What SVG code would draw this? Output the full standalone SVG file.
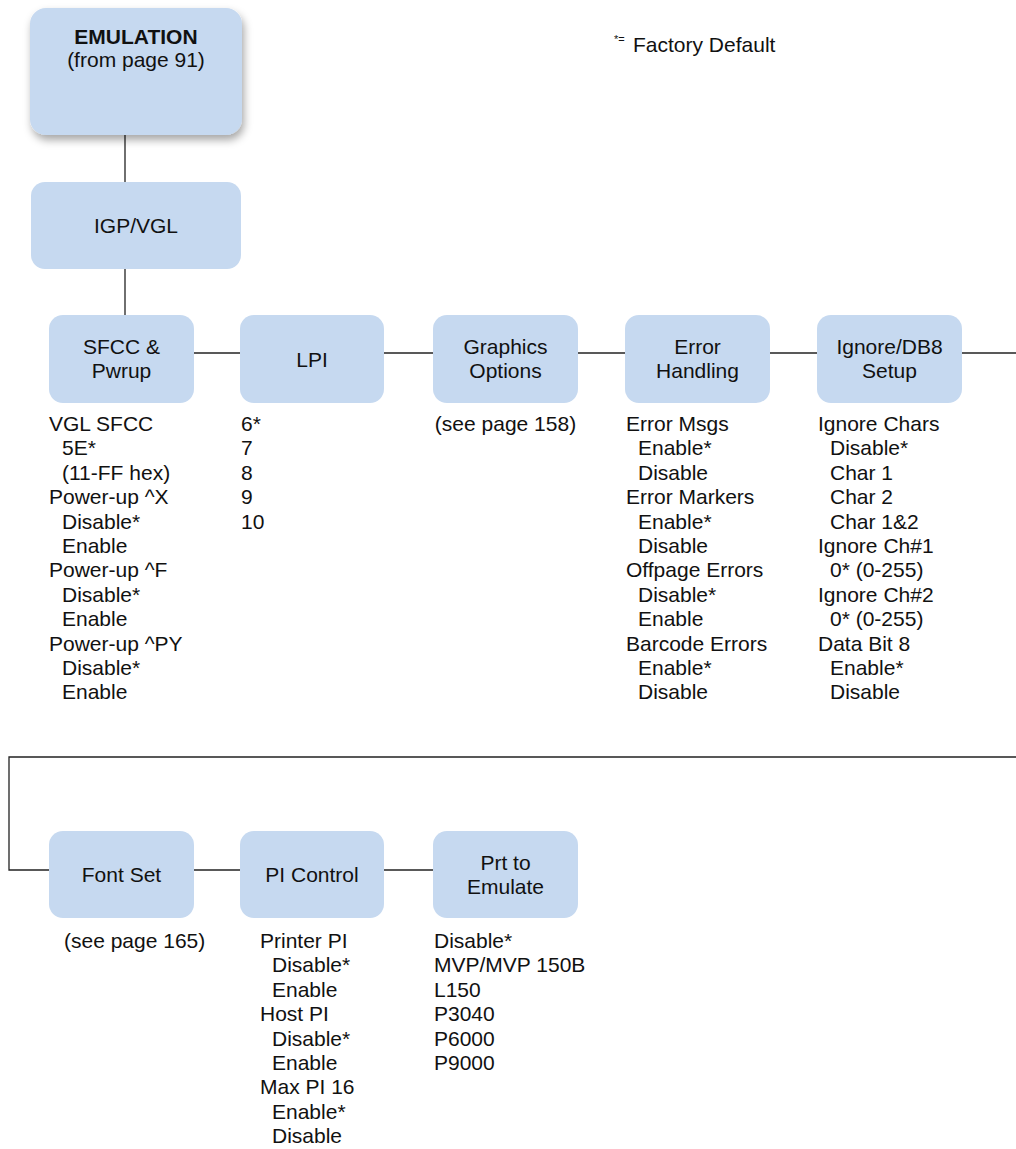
<svg xmlns="http://www.w3.org/2000/svg" width="1016" height="1149" viewBox="0 0 1016 1149">
<defs>
<style>
.box{fill:#c6d9f0;}
.t{font-family:"Liberation Sans",Arial,sans-serif;font-size:21px;fill:#111;}
.c{text-anchor:middle;}
.b{font-weight:bold;}
.ln{stroke:#222;stroke-width:1.3;fill:none;}
</style>
<filter id="sh" x="-20%" y="-20%" width="150%" height="150%">
<feDropShadow dx="2" dy="5" stdDeviation="4" flood-color="#000" flood-opacity="0.35"/>
</filter>
</defs>
<rect width="1016" height="1149" fill="#fff"/>
<g id="connectors">
<line class="ln" x1="125" y1="135" x2="125" y2="182"/>
<line class="ln" x1="125" y1="269" x2="125" y2="315"/>
<line class="ln" x1="194" y1="353" x2="240" y2="353"/>
<line class="ln" x1="384" y1="353" x2="433" y2="353"/>
<line class="ln" x1="578" y1="353" x2="625" y2="353"/>
<line class="ln" x1="770" y1="353" x2="817" y2="353"/>
<line class="ln" x1="962" y1="353" x2="1016" y2="353"/>
<polyline class="ln" points="1016,757 9,757 9,870 49,870"/>
<line class="ln" x1="194" y1="870" x2="240" y2="870"/>
<line class="ln" x1="384" y1="870" x2="433" y2="870"/>
</g>
<g id="legend">
<text class="t" x="614" y="43" style="font-size:11px">*=</text>
<text class="t" x="633" y="52">Factory Default</text>
</g>
<g id="emulation">
<rect class="box" x="30" y="8" width="212" height="127" rx="16" filter="url(#sh)"/>
<text class="t c b" x="136" y="44">EMULATION</text>
<text class="t c" x="136" y="67">(from page 91)</text>
</g>
<g id="igpvgl">
<rect class="box" x="31" y="182" width="210" height="87" rx="14"/>
<text class="t c" x="136" y="233">IGP/VGL</text>
</g>
<g id="sfcc">
<rect class="box" x="49" y="315" width="145" height="88" rx="14"/>
<text class="t c" x="121.5" y="354">SFCC &amp;</text>
<text class="t c" x="121.5" y="378">Pwrup</text>
<text class="t" x="49" y="431">VGL SFCC</text>
<text class="t" x="62" y="455.4">5E*</text>
<text class="t" x="62" y="479.8">(11-FF hex)</text>
<text class="t" x="49" y="504.2">Power-up ^X</text>
<text class="t" x="62" y="528.6">Disable*</text>
<text class="t" x="62" y="553">Enable</text>
<text class="t" x="49" y="577.4">Power-up ^F</text>
<text class="t" x="62" y="601.8">Disable*</text>
<text class="t" x="62" y="626.2">Enable</text>
<text class="t" x="49" y="650.6">Power-up ^PY</text>
<text class="t" x="62" y="675">Disable*</text>
<text class="t" x="62" y="699.4">Enable</text>
</g>
<g id="lpi">
<rect class="box" x="240" y="315" width="144" height="88" rx="14"/>
<text class="t c" x="312" y="367">LPI</text>
<text class="t" x="241" y="431">6*</text>
<text class="t" x="241" y="455.4">7</text>
<text class="t" x="241" y="479.8">8</text>
<text class="t" x="241" y="504.2">9</text>
<text class="t" x="241" y="528.6">10</text>
</g>
<g id="graphics">
<rect class="box" x="433" y="315" width="145" height="88" rx="14"/>
<text class="t c" x="505.5" y="354">Graphics</text>
<text class="t c" x="505.5" y="378">Options</text>
<text class="t c" x="505.5" y="431">(see page 158)</text>
</g>
<g id="error">
<rect class="box" x="625" y="315" width="145" height="88" rx="14"/>
<text class="t c" x="697.5" y="354">Error</text>
<text class="t c" x="697.5" y="378">Handling</text>
<text class="t" x="626" y="431">Error Msgs</text>
<text class="t" x="638" y="455.4">Enable*</text>
<text class="t" x="638" y="479.8">Disable</text>
<text class="t" x="626" y="504.2">Error Markers</text>
<text class="t" x="638" y="528.6">Enable*</text>
<text class="t" x="638" y="553">Disable</text>
<text class="t" x="626" y="577.4">Offpage Errors</text>
<text class="t" x="638" y="601.8">Disable*</text>
<text class="t" x="638" y="626.2">Enable</text>
<text class="t" x="626" y="650.6">Barcode Errors</text>
<text class="t" x="638" y="675">Enable*</text>
<text class="t" x="638" y="699.4">Disable</text>
</g>
<g id="ignore">
<rect class="box" x="817" y="315" width="145" height="88" rx="14"/>
<text class="t c" x="889.5" y="354">Ignore/DB8</text>
<text class="t c" x="889.5" y="378">Setup</text>
<text class="t" x="818" y="431">Ignore Chars</text>
<text class="t" x="830" y="455.4">Disable*</text>
<text class="t" x="830" y="479.8">Char 1</text>
<text class="t" x="830" y="504.2">Char 2</text>
<text class="t" x="830" y="528.6">Char 1&amp;2</text>
<text class="t" x="818" y="553">Ignore Ch#1</text>
<text class="t" x="830" y="577.4">0* (0-255)</text>
<text class="t" x="818" y="601.8">Ignore Ch#2</text>
<text class="t" x="830" y="626.2">0* (0-255)</text>
<text class="t" x="818" y="650.6">Data Bit 8</text>
<text class="t" x="830" y="675">Enable*</text>
<text class="t" x="830" y="699.4">Disable</text>
</g>
<g id="fontset">
<rect class="box" x="49" y="831" width="145" height="87" rx="14"/>
<text class="t c" x="121.5" y="882">Font Set</text>
<text class="t" x="64" y="948">(see page 165)</text>
</g>
<g id="picontrol">
<rect class="box" x="240" y="831" width="144" height="87" rx="14"/>
<text class="t c" x="312" y="882">PI Control</text>
<text class="t" x="260" y="948">Printer PI</text>
<text class="t" x="272" y="972.4">Disable*</text>
<text class="t" x="272" y="996.8">Enable</text>
<text class="t" x="260" y="1021.2">Host PI</text>
<text class="t" x="272" y="1045.6">Disable*</text>
<text class="t" x="272" y="1070">Enable</text>
<text class="t" x="260" y="1094.4">Max PI 16</text>
<text class="t" x="272" y="1118.8">Enable*</text>
<text class="t" x="272" y="1143.2">Disable</text>
</g>
<g id="prttoemulate">
<rect class="box" x="433" y="831" width="145" height="87" rx="14"/>
<text class="t c" x="505.5" y="870">Prt to</text>
<text class="t c" x="505.5" y="894">Emulate</text>
<text class="t" x="434" y="948">Disable*</text>
<text class="t" x="434" y="972.4">MVP/MVP 150B</text>
<text class="t" x="434" y="996.8">L150</text>
<text class="t" x="434" y="1021.2">P3040</text>
<text class="t" x="434" y="1045.6">P6000</text>
<text class="t" x="434" y="1070">P9000</text>
</g>
</svg>
